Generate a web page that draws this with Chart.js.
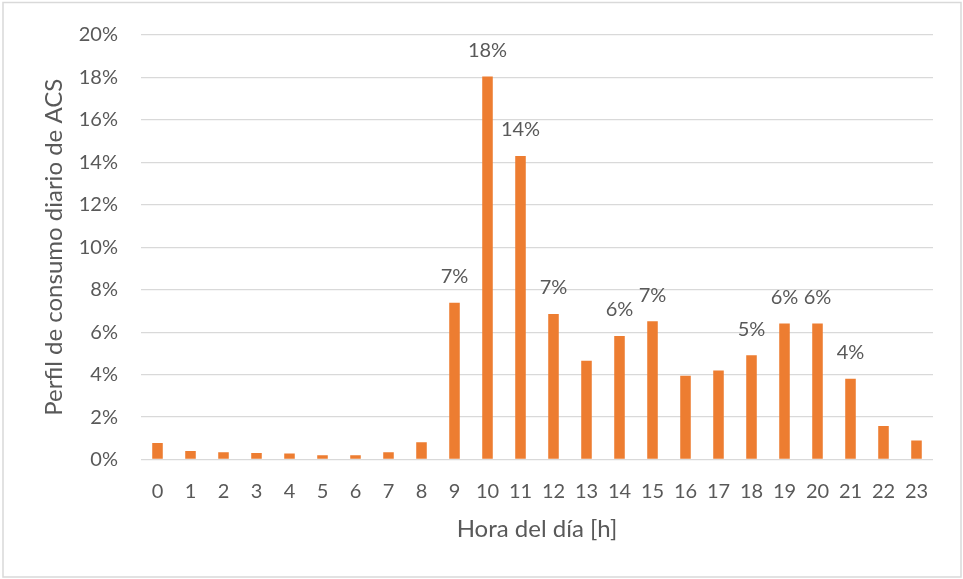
<!DOCTYPE html>
<html>
<head>
<meta charset="utf-8">
<script src="https://cdn.jsdelivr.net/npm/chart.js@4/dist/chart.umd.min.js"></script>
<style>
  html, body { margin: 0; padding: 0; background: #fff; }
  canvas { display: block; }
</style>
</head>
<body>
<canvas id="acsChart" width="963" height="579"></canvas>
<script>
  // data
  const hours = ['0', '1', '2', '3', '4', '5', '6', '7', '8', '9', '10', '11',
                 '12', '13', '14', '15', '16', '17', '18', '19', '20', '21', '22', '23'];
  const consumption = [0.78, 0.40, 0.34, 0.31, 0.28, 0.20, 0.20, 0.34, 0.81, 7.39, 18.04, 14.30,
                       6.86, 4.65, 5.82, 6.51, 3.95, 4.19, 4.91, 6.41, 6.41, 3.81, 1.58, 0.89];
  // bars that carry a value label
  const labelledHours = [9, 10, 11, 12, 14, 15, 18, 19, 20, 21];
  const yTicks = [0, 2, 4, 6, 8, 10, 12, 14, 16, 18, 20];

  const textColor = '#595959';
  const gridColor = '#d9d9d9';
  const barColor = '#ed7d31';
  const fontFamily = 'Lato, "Open Sans", sans-serif';

  // outer frame of the chart
  const framePlugin = {
    id: 'frame',
    beforeDraw(chart) {
      const ctx = chart.ctx;
      ctx.save();
      ctx.fillStyle = '#fff';
      ctx.fillRect(0, 0, chart.width, chart.height);
      ctx.strokeStyle = gridColor;
      ctx.lineWidth = 1.5;
      ctx.strokeRect(3, 2.5, 958, 574.5);
      ctx.restore();
    }
  };

  // value labels above selected bars
  const valueLabelPlugin = {
    id: 'valueLabels',
    afterDatasetsDraw(chart) {
      const ctx = chart.ctx;
      const meta = chart.getDatasetMeta(0);
      ctx.save();
      ctx.fillStyle = textColor;
      ctx.font = '20px ' + fontFamily;
      ctx.textAlign = 'center';
      ctx.textBaseline = 'middle';
      labelledHours.forEach(function(i) {
        const bar = meta.data[i];
        ctx.fillText(Math.round(consumption[i]) + '%', bar.x, bar.y - 26);
      });
      ctx.restore();
    }
  };

  new Chart(document.getElementById('acsChart').getContext('2d'), {
    type: 'bar',
    data: {
      labels: hours,
      datasets: [{
        data: consumption,
        backgroundColor: barColor,
        borderWidth: 0,
        barPercentage: 0.32,
        categoryPercentage: 1
      }]
    },
    options: {
      responsive: false,
      animation: false,
      layout: { padding: { top: 31, right: 30, left: 0, bottom: 0 } },
      plugins: {
        legend: { display: false },
        tooltip: { enabled: false }
      },
      scales: {
        x: {
          grid: { display: false },
          border: { display: false },
          ticks: {
            color: textColor,
            font: { family: fontFamily, size: 20 },
            padding: 12,
            maxRotation: 0
          },
          title: {
            display: true,
            text: 'Hora del día [h]',
            color: textColor,
            font: { family: fontFamily, size: 24 },
            padding: { top: 0, bottom: 35 }
          },
          afterFit: function(scale) { scale.height = 119.5; }
        },
        y: {
          min: 0,
          max: 20,
          afterBuildTicks: function(scale) {
            scale.ticks = yTicks.map(function(v) { return { value: v }; });
          },
          grid: { color: gridColor, lineWidth: 1.3, drawTicks: false },
          border: { display: false },
          ticks: {
            color: textColor,
            font: { family: fontFamily, size: 20 },
            padding: 23,
            callback: function(v) { return v + '%'; }
          },
          title: {
            display: true,
            text: 'Perfil de consumo diario de ACS',
            color: textColor,
            font: { family: fontFamily, size: 24 },
            padding: { top: 40, bottom: 0 }
          },
          afterFit: function(scale) { scale.width = 141; }
        }
      }
    },
    plugins: [framePlugin, valueLabelPlugin]
  });
</script>
</body>
</html>
